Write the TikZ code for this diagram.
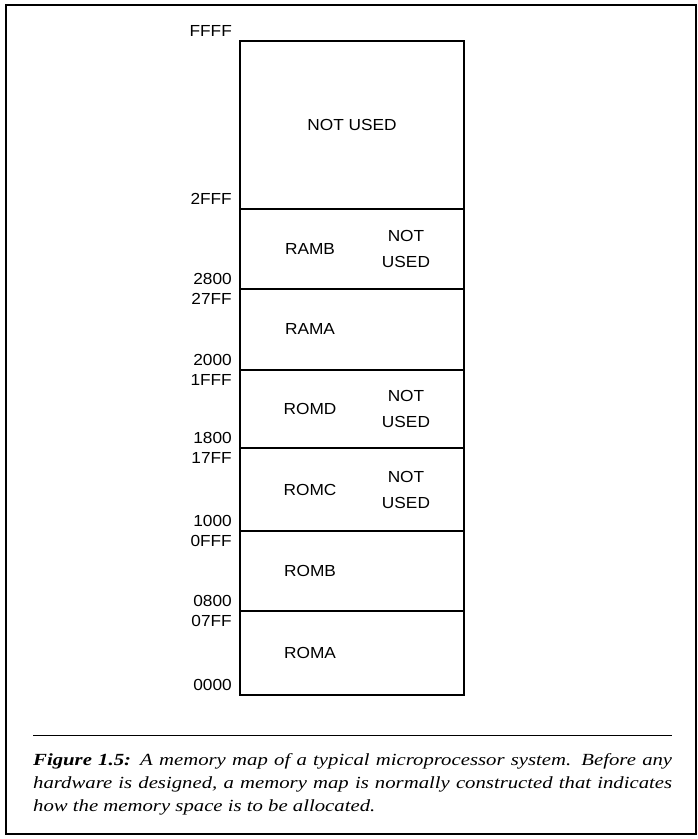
\documentclass[tikz,border=0pt]{standalone}
\usepackage{fontspec}
\setmainfont{Liberation Serif}
\newfontfamily\mapfont[FakeStretch=1.08]{Liberation Sans}
\newfontfamily\capfont[FakeStretch=1.22]{Liberation Serif}
\usetikzlibrary{positioning}

\begin{document}
\begin{tikzpicture}[x=1pt, y=1pt,
    region/.style={draw, line width=1.4pt, minimum width=224pt, inner sep=0pt, outer sep=0pt},
    addr/.style={font=\mapfont\fontsize{16}{18}\selectfont, inner sep=0pt},
    lbl/.style={font=\mapfont\fontsize{16}{26}\selectfont, align=center, inner sep=0pt}]
  \useasboundingbox (0,0) rectangle (698,839);
  \draw[line width=1.4pt] (6,5) rectangle (696,834);

  % memory blocks, from FFFF down to 0000
  \node[region, minimum height=168pt, anchor=north] (free) at (352,798) {};
  \node[region, minimum height=80pt, below=0pt of free] (ramb) {};
  \node[region, minimum height=81pt, below=0pt of ramb] (rama) {};
  \node[region, minimum height=78pt, below=0pt of rama] (romd) {};
  \node[region, minimum height=83pt, below=0pt of romd] (romc) {};
  \node[region, minimum height=80pt, below=0pt of romc] (romb) {};
  \node[region, minimum height=84pt, below=0pt of romb] (roma) {};

  % block names
  \node[lbl] (tfree) at (free) {NOT USED};
  \foreach \reg/\txt in {ramb/RAMB, rama/RAMA, romd/ROMD, romc/ROMC, romb/ROMB, roma/ROMA}
    \node[lbl] (t\reg) at ([xshift=70pt]\reg.west) {\txt};
  \foreach \reg in {ramb, romd, romc}
    \node[lbl] (u\reg) at ([xshift=166pt]\reg.west) {NOT\\USED};

  % addresses
  \node[addr, above left=4pt and 8pt of free.north west] (aFFFF) {FFFF};
  \foreach \reg/\lo in {free/2FFF, ramb/2800, rama/2000, romd/1800, romc/1000, romb/0800, roma/0000}
    \node[addr, above left=4pt and 8pt of \reg.south west] (a\lo) {\lo};
  \foreach \reg/\hi in {rama/27FF, romd/1FFF, romc/17FF, romb/0FFF, roma/07FF}
    \node[addr, below left=4pt and 8pt of \reg.north west] (a\hi) {\hi};

  % caption
  \draw[line width=0.8pt] (33,104) -- (672,104);
  \node[anchor=north west, text width=639pt, align=justify, inner sep=0pt,
        font=\capfont\itshape\fontsize{17}{23}\selectfont] (caption) at (33,86)
    {\textbf{Figure 1.5:} A memory map of a typical microprocessor system. Before any\linebreak
     hardware is designed, a memory map is normally constructed that indicates\linebreak
     how the memory space is to be allocated.};
\end{tikzpicture}
\end{document}
